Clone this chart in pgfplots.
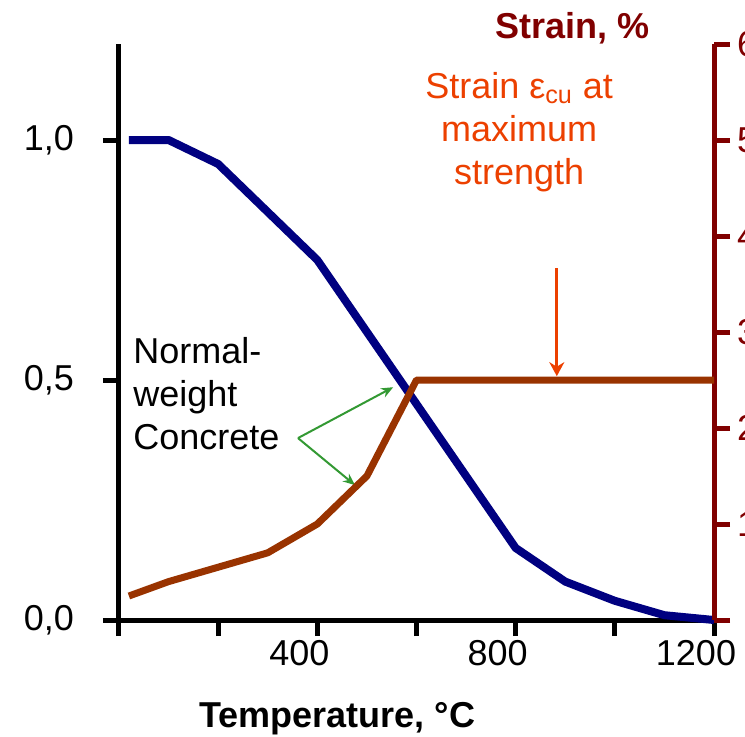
\documentclass[border=0pt]{standalone}
\usepackage{pgfplots}
\pgfplotsset{compat=1.18}
\usepackage{fontspec}
\setmainfont{Liberation Sans}
\usetikzlibrary{arrows.meta}
\definecolor{navyc}{RGB}{0,0,128}
\definecolor{brownc}{RGB}{153,51,0}
\definecolor{darkredc}{RGB}{128,0,0}
\definecolor{orangec}{RGB}{236,64,0}
\definecolor{greenc}{RGB}{51,153,51}
\newcommand\bigf{\fontsize{18}{21.5}\selectfont}
\begin{document}
\begin{tikzpicture}
\pgfplotsset{
 base/.style={
  width=297.5pt, height=288pt, scale only axis,
  xmin=0, xmax=1200,
  clip=false,
  tick align=outside,
  major tick length=8pt,
  /pgf/number format/assume math mode=true,
  tick label style={font=\bigf},
 }
}
\begin{axis}[base,
  ymin=0, ymax=1.2,
  axis x line*=bottom, axis y line*=left,
  axis line style={black, line width=2.5pt, -},
  x axis line style={-}, y axis line style={-},
  every tick/.style={black, line width=2.5pt},
  xtick={0,200,...,1200}, xticklabels={,,400,,800,,1200},
  xticklabel style={xshift=-9pt, yshift=1.5pt},
  ytick={0,0.5,1}, yticklabels={{0,0},{0,5},{1,0}},
  yticklabel style={xshift=-11pt},
]
\addplot[navyc, line width=4pt, line join=round] coordinates {
(20,1.00)(100,1.00)(200,0.95)(300,0.85)(400,0.75)(500,0.60)(600,0.45)
(700,0.30)(800,0.15)(900,0.08)(1000,0.04)(1100,0.01)(1200,0.00)};
\node[font=\bigf\bfseries, anchor=base] at (axis cs:440,-0.223) {Temperature, °C};
\node[darkredc, font=\bigf\bfseries, anchor=base] at (axis cs:914,1.2125) {Strain, \%};
\node[orangec, align=center, anchor=north, inner sep=0pt, font=\bigf] at (axis cs:807,1.142) {Strain ε\textsubscript{cu} at\\maximum\\strength};
\node[align=left, anchor=north west, inner sep=0pt, font=\bigf] at (axis cs:28,0.59) {Normal-\\weight\\Concrete};
\draw[greenc, line width=1pt, -{Stealth[length=6pt,width=5pt]}] (axis cs:361,0.379) -- (axis cs:553,0.485);
\draw[greenc, line width=1pt, -{Stealth[length=6pt,width=5pt]}] (axis cs:361,0.379) -- (axis cs:476,0.281);
\draw[orangec, line width=1.5pt, -{Stealth[length=7pt,width=7.5pt]}] (axis cs:883,0.733) -- (axis cs:883,0.508);
\end{axis}
\begin{axis}[base,
  ymin=0, ymax=6,
  axis x line=none, axis y line*=right,
  axis line style={darkredc, line width=2.5pt, -},
  y axis line style={-},
  every tick/.style={darkredc, line width=2.5pt},
  xtick=\empty,
  ytick={0,1,...,6}, yticklabels={,1,2,3,4,5,6},
  yticklabel style={darkredc},
]
\addplot[brownc, line width=3.5pt, line join=round] coordinates {
(20,0.25)(100,0.40)(200,0.55)(300,0.70)(400,1.00)(500,1.50)(600,2.50)
(700,2.50)(800,2.50)(900,2.50)(1000,2.50)(1100,2.50)(1200,2.50)};
\end{axis}
\pgfresetboundingbox
\path[use as bounding box] (-59.5pt,-58pt) rectangle (313pt,310pt);
\end{tikzpicture}
\end{document}
